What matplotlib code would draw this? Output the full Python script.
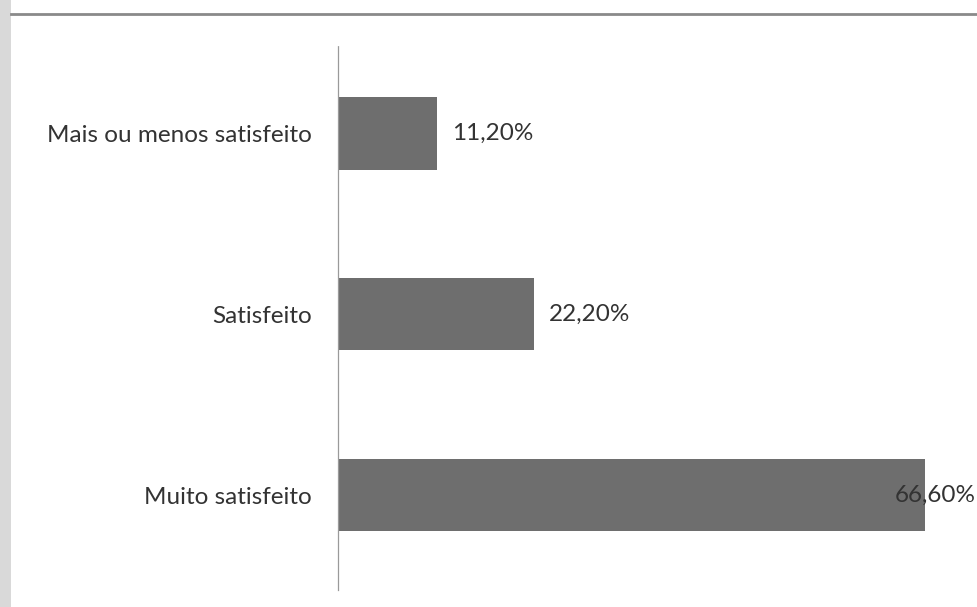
import matplotlib.pyplot as plt
from matplotlib.lines import Line2D
from matplotlib.patches import Rectangle
from matplotlib.transforms import blended_transform_factory

plt.rcParams["font.family"] = ["Lato", "DejaVu Sans"]

categories = ["Muito satisfeito", "Satisfeito", "Mais ou menos satisfeito"]
values = [66.6, 22.2, 11.2]
value_labels = ["66,60%", "22,20%", "11,20%"]

BAR = "#6e6e6e"
INK = "#333333"

fig = plt.figure(figsize=(9.77, 6.07), dpi=100)
fig.patch.set_facecolor("white")

# scan artefacts: grey strip on the left and frame line at the top
fig.patches.append(Rectangle((0, 0), 0.011, 1, transform=fig.transFigure,
                             facecolor="#d9d9d9", edgecolor="none", zorder=0))
fig.lines.append(Line2D([0.011, 1], [0.977, 0.977], transform=fig.transFigure,
                        color="#8a8a8a", linewidth=2))

ax = fig.add_axes([0.346, 0.028, 0.654, 0.898])
positions = range(len(categories))
ax.barh(positions, values, height=0.4, color=BAR)

ax.set_xlim(0, 72.5)
ax.set_ylim(-0.525, 2.49)
ax.set_yticks(list(positions))
ax.set_yticklabels(categories, fontsize=17.5, color=INK)
ax.tick_params(axis="y", length=0, pad=19)
ax.set_xticks([])
for side in ("top", "right", "bottom"):
    ax.spines[side].set_visible(False)
ax.spines["left"].set_color("#9a9a9a")
ax.spines["left"].set_linewidth(0.9)
ax.spines["left"].set_linestyle((0, (3, 1)))

edge = blended_transform_factory(fig.transFigure, ax.transData)
for i, (v, lab) in enumerate(zip(values, value_labels)):
    if v > 60:
        ax.text(0.999, i, lab, transform=edge, ha="right", va="center",
                fontsize=17.5, color=INK, clip_on=False)
    else:
        ax.annotate(lab, xy=(v, i), xytext=(11, 0), textcoords="offset points",
                    ha="left", va="center", fontsize=17.5, color=INK)

fig.savefig("out.png", dpi=100)
plt.close(fig)
